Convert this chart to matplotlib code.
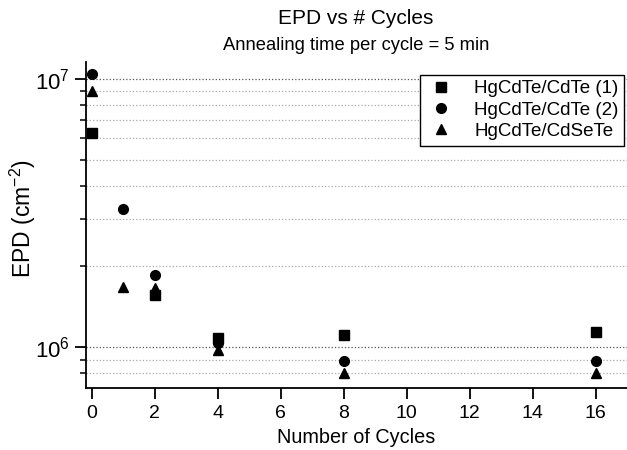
import matplotlib
matplotlib.use("Agg")
import matplotlib.pyplot as plt
from matplotlib.ticker import LogLocator, NullFormatter

plt.rcParams['font.family'] = ['Liberation Sans', 'DejaVu Sans']
plt.rcParams['mathtext.fontset'] = 'custom'
plt.rcParams['mathtext.rm'] = 'Liberation Sans'
plt.rcParams['mathtext.it'] = 'Liberation Sans'
plt.rcParams['mathtext.default'] = 'regular'

cycles_1 = [0, 2, 4, 8, 16]
epd_1 = [6.3e6, 1.56e6, 1.08e6, 1.11e6, 1.14e6]
cycles_2 = [0, 1, 2, 4, 8, 16]
epd_2 = [1.04e7, 3.27e6, 1.86e6, 1.04e6, 0.89e6, 0.89e6]
cycles_3 = [0, 1, 2, 4, 8, 16]
epd_3 = [9.0e6, 1.67e6, 1.66e6, 0.98e6, 0.80e6, 0.80e6]
labels = ["HgCdTe/CdTe (1)", "HgCdTe/CdTe (2)", "HgCdTe/CdSeTe"]
xticks = [0, 2, 4, 6, 8, 10, 12, 14, 16]

fig = plt.figure(figsize=(6.27, 4.5), dpi=100)
ax = fig.add_axes([0.137, 0.138, 0.863, 0.725])

ax.plot(cycles_1, epd_1, 's', color='black', ms=6.5, ls='none', label=labels[0])
ax.plot(cycles_2, epd_2, 'o', color='black', ms=7, ls='none', label=labels[1])
ax.plot(cycles_3, epd_3, '^', color='black', ms=7.5, ls='none', label=labels[2])

ax.set_yscale('log')
ax.set_ylim(7.06e5, 1.157e7)
ax.set_xlim(-0.18, 17.0)
ax.set_xticks(xticks)
ax.yaxis.set_major_locator(LogLocator(base=10, numticks=10))
ax.yaxis.set_minor_locator(LogLocator(base=10, subs=range(2, 10), numticks=20))
ax.yaxis.set_minor_formatter(NullFormatter())

ax.grid(True, which='major', axis='y', ls=':', color='#555555', lw=0.9)
ax.grid(True, which='minor', axis='y', ls=':', color='#aaaaaa', lw=0.9)

for s in ['top', 'right']:
    ax.spines[s].set_visible(False)
for s in ['left', 'bottom']:
    ax.spines[s].set_linewidth(1.3)

ax.tick_params(axis='x', which='major', direction='out', length=8, width=1.3, labelsize=14, pad=4.5)
ax.tick_params(axis='y', which='major', direction='out', length=8, width=1.3, labelsize=16)
ax.tick_params(axis='y', which='minor', direction='out', length=4, width=1.1)
ax.tick_params(axis='x', which='minor', bottom=False)

ax.set_xlabel('Number of Cycles', fontsize=14.3, labelpad=4)
ax.set_ylabel('EPD (cm$^{-2}$)', fontsize=16.5)
ax.yaxis.set_label_coords(-0.089, 0.52)

fig.text(0.568, 0.96, 'EPD vs # Cycles', ha='center', va='center', fontsize=15)
fig.text(0.568, 0.898, 'Annealing time per cycle = 5 min', ha='center', va='center', fontsize=13.2)

leg = ax.legend(loc='upper right', bbox_to_anchor=(0.995, 0.96), fontsize=13.5,
                frameon=True, fancybox=False, edgecolor='black', framealpha=1,
                borderpad=0.3, labelspacing=0.22, handletextpad=1.0, handlelength=1.6,
                borderaxespad=0)
leg.get_frame().set_linewidth(1.0)

fig.savefig('out.png', dpi=100)
